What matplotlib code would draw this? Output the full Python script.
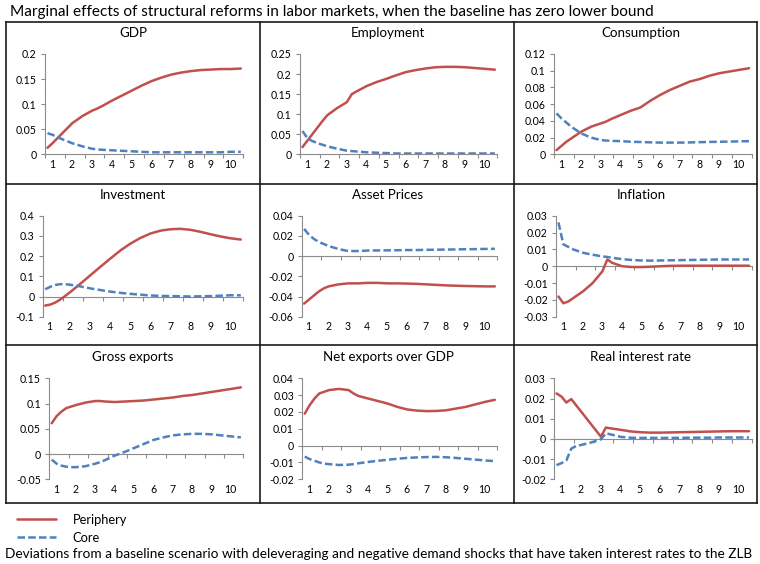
import matplotlib
matplotlib.use("Agg")
import matplotlib.pyplot as plt
from matplotlib.lines import Line2D
import numpy as np

plt.rcParams['font.family'] = ['Lato', 'DejaVu Sans']

# ---------------- data ----------------
QUARTERS = [1, 2, 3, 4, 5, 6, 8, 10, 11, 12, 14, 16, 18, 20, 22, 24, 26, 28, 30, 32, 34, 36, 38, 40]
YEAR_LABELS = ["1", "2", "3", "4", "5", "6", "7", "8", "9", "10"]
SERIES_NAMES = ["Periphery", "Core"]
PANEL_TITLES = ["GDP", "Employment", "Consumption",
                "Investment", "Asset Prices", "Inflation",
                "Gross exports", "Net exports over GDP", "Real interest rate"]

GDP_PERIPHERY = [0.013, 0.022, 0.032, 0.042, 0.052, 0.062, 0.076, 0.087, 0.091, 0.096, 0.107, 0.117,
                 0.127, 0.137, 0.146, 0.153, 0.159, 0.163, 0.166, 0.168, 0.169, 0.170, 0.170, 0.171]
GDP_CORE = [0.042, 0.039, 0.034, 0.030, 0.026, 0.022, 0.016, 0.011, 0.010, 0.009, 0.008, 0.007,
            0.006, 0.005, 0.004, 0.004, 0.004, 0.004, 0.004, 0.004, 0.004, 0.004, 0.005, 0.005]

EMP_PERIPHERY = [0.018, 0.034, 0.050, 0.066, 0.082, 0.097, 0.115, 0.130, 0.150, 0.157, 0.170, 0.180,
                 0.188, 0.197, 0.205, 0.210, 0.214, 0.217, 0.218, 0.218, 0.217, 0.215, 0.213, 0.211]
EMP_CORE = [0.058, 0.040, 0.033, 0.028, 0.024, 0.020, 0.014, 0.009, 0.008, 0.007, 0.005, 0.004,
            0.003, 0.002, 0.002, 0.002, 0.002, 0.002, 0.002, 0.002, 0.002, 0.002, 0.002, 0.002]

CONS_PERIPHERY = [0.005, 0.010, 0.015, 0.019, 0.023, 0.027, 0.033, 0.037, 0.039, 0.042, 0.047, 0.052,
                  0.056, 0.064, 0.071, 0.077, 0.082, 0.087, 0.090, 0.094, 0.097, 0.099, 0.101, 0.103]
CONS_CORE = [0.049, 0.043, 0.038, 0.033, 0.029, 0.025, 0.020, 0.017, 0.0165, 0.016, 0.0158, 0.015,
             0.0147, 0.0143, 0.014, 0.014, 0.014, 0.0142, 0.0145, 0.0148, 0.015, 0.0152, 0.0155, 0.0157]

INV_PERIPHERY = [-0.045, -0.040, -0.030, -0.015, 0.003, 0.022, 0.063, 0.105, 0.126, 0.147, 0.188, 0.228,
                 0.262, 0.290, 0.312, 0.326, 0.333, 0.335, 0.330, 0.320, 0.308, 0.297, 0.288, 0.282]
INV_CORE = [0.036, 0.048, 0.057, 0.061, 0.061, 0.058, 0.050, 0.040, 0.036, 0.032, 0.024, 0.018,
            0.013, 0.009, 0.005, 0.003, 0.002, 0.001, 0.000, 0.001, 0.002, 0.004, 0.006, 0.006]

ASSET_PERIPHERY = [-0.047, -0.043, -0.039, -0.035, -0.032, -0.030, -0.028, -0.027, -0.027, -0.027, -0.0265, -0.0265,
                   -0.027, -0.027, -0.0272, -0.0275, -0.028, -0.0285, -0.029, -0.0293, -0.0296, -0.0298, -0.030, -0.030]
ASSET_CORE = [0.027, 0.021, 0.017, 0.014, 0.012, 0.010, 0.007, 0.005, 0.005, 0.005, 0.0055, 0.0056,
              0.0057, 0.0058, 0.006, 0.006, 0.0062, 0.0063, 0.0065, 0.0066, 0.0068, 0.0069, 0.0071, 0.0072]

INFL_PERIPHERY = [-0.018, -0.022, -0.021, -0.019, -0.017, -0.015, -0.010, -0.003, 0.004, 0.002, 0.000, -0.0005,
                  -0.0005, -0.0003, 0.0, 0.0002, 0.0003, 0.0003, 0.0003, 0.0003, 0.0003, 0.0003, 0.0003, 0.0003]
INFL_CORE = [0.026, 0.013, 0.0115, 0.010, 0.009, 0.008, 0.0068, 0.0058, 0.0055, 0.005, 0.0042, 0.0037,
             0.0034, 0.0033, 0.0034, 0.0035, 0.0036, 0.0037, 0.0038, 0.0039, 0.004, 0.004, 0.004, 0.004]

GEXP_PERIPHERY = [0.061, 0.075, 0.084, 0.091, 0.094, 0.097, 0.102, 0.105, 0.105, 0.104, 0.103, 0.104,
                  0.105, 0.106, 0.108, 0.110, 0.112, 0.115, 0.117, 0.120, 0.123, 0.126, 0.129, 0.132]
GEXP_CORE = [-0.011, -0.019, -0.023, -0.025, -0.026, -0.026, -0.024, -0.019, -0.016, -0.012, -0.003, 0.004,
             0.012, 0.020, 0.028, 0.033, 0.037, 0.039, 0.040, 0.040, 0.039, 0.037, 0.035, 0.033]

NEXP_PERIPHERY = [0.019, 0.024, 0.028, 0.031, 0.032, 0.033, 0.0337, 0.033, 0.031, 0.0295, 0.028, 0.0265,
                  0.025, 0.023, 0.0215, 0.0208, 0.0205, 0.0206, 0.021, 0.022, 0.023, 0.0245, 0.026, 0.0272]
NEXP_CORE = [-0.0065, -0.008, -0.009, -0.010, -0.0107, -0.011, -0.0115, -0.0113, -0.011, -0.0105, -0.0097, -0.009,
             -0.0084, -0.0078, -0.0073, -0.007, -0.0068, -0.0067, -0.0069, -0.0073, -0.0078, -0.0083, -0.0088, -0.0092]

RIR_PERIPHERY = [0.0225, 0.021, 0.018, 0.0197, 0.0166, 0.0135, 0.0073, 0.0011, 0.0056, 0.0052, 0.0045, 0.0037,
                 0.0033, 0.0031, 0.0031, 0.0032, 0.0033, 0.0034, 0.0035, 0.0036, 0.0037, 0.0038, 0.0038, 0.0038]
RIR_CORE = [-0.013, -0.012, -0.0107, -0.0048, -0.0035, -0.003, -0.0018, -0.0002, 0.0028, 0.0022, 0.001, 0.0006,
            0.0005, 0.0005, 0.0005, 0.0005, 0.0005, 0.0006, 0.0006, 0.0006, 0.0007, 0.0007, 0.0007, 0.0007]

PERIPHERY = [GDP_PERIPHERY, EMP_PERIPHERY, CONS_PERIPHERY, INV_PERIPHERY, ASSET_PERIPHERY,
             INFL_PERIPHERY, GEXP_PERIPHERY, NEXP_PERIPHERY, RIR_PERIPHERY]
CORE = [GDP_CORE, EMP_CORE, CONS_CORE, INV_CORE, ASSET_CORE, INFL_CORE, GEXP_CORE, NEXP_CORE, RIR_CORE]

Y_TICKS = [[0, 0.05, 0.1, 0.15, 0.2],
           [0, 0.05, 0.1, 0.15, 0.2, 0.25],
           [0, 0.02, 0.04, 0.06, 0.08, 0.1, 0.12],
           [-0.1, 0, 0.1, 0.2, 0.3, 0.4],
           [-0.06, -0.04, -0.02, 0, 0.02, 0.04],
           [-0.03, -0.02, -0.01, 0, 0.01, 0.02, 0.03],
           [-0.05, 0, 0.05, 0.1, 0.15],
           [-0.02, -0.01, 0, 0.01, 0.02, 0.03, 0.04],
           [-0.02, -0.01, 0, 0.01, 0.02, 0.03]]

TITLE = "Marginal effects of structural reforms in labor markets, when the baseline has zero lower bound"
FOOTNOTE = ("Deviations from a baseline scenario with deleveraging and negative demand shocks "
            "that have taken interest rates to the ZLB")

# ---------------- layout (pixels) ----------------
W, H = 760, 564
RED = "#C0504D"
BLUE = "#4F81BD"
AXIS_GRAY = "#8C8C8C"

row_y = [(54, 154.3), (215.7, 316.7), (378.3, 479.3)]
col_left = [[45, 300, 554], [42.7, 301.7, 556], [49.3, 302.3, 554]]
col_right = [243.3, 497.3, 751.5]
title_x = [133, 388, 641]
title_y = [33, 195, 357]

fig = plt.figure(figsize=(W / 100, H / 100), dpi=100)

def fmt(v):
    s = f"{round(v, 3):g}"
    return "0" if s in ("-0", "0.0") else s

handles = []
for i in range(9):
    r, c = divmod(i, 3)
    top, bot = row_y[r]
    left = col_left[r][c]
    right = col_right[c]
    ax = fig.add_axes([left / W, 1 - bot / H, (right - left) / W, (bot - top) / H])
    ax.patch.set_alpha(0)
    lp, = ax.plot(QUARTERS, PERIPHERY[i], color=RED, lw=1.8, solid_capstyle='round', zorder=3)
    lc, = ax.plot(QUARTERS, CORE[i], color=BLUE, lw=1.8, linestyle=(0, (3.0, 1.3)), zorder=3)
    if i == 0:
        handles = [lp, lc]
    yt = Y_TICKS[i]
    ax.set_ylim(yt[0], yt[-1])
    ax.set_xlim(0.5, 40.5)
    ax.set_yticks(yt)
    ax.set_yticklabels([fmt(v) for v in yt])
    for s in ("top", "right"):
        ax.spines[s].set_visible(False)
    ax.spines["left"].set_color(AXIS_GRAY)
    ax.spines["left"].set_linewidth(0.8)
    ax.spines["bottom"].set_position(("data", 0))
    ax.spines["bottom"].set_color(AXIS_GRAY)
    ax.spines["bottom"].set_linewidth(0.8)
    ax.set_xticks(np.arange(0.5, 41, 4))
    ax.tick_params(axis="x", direction="out", length=3, color=AXIS_GRAY, labelbottom=False, width=0.8)
    ax.tick_params(axis="y", direction="out", length=3, color=AXIS_GRAY, width=0.8,
                   labelsize=7.6, pad=3, labelcolor="black")
    sec = ax.secondary_xaxis("bottom")
    sec.set_xticks([4 * k - 2.1 for k in range(1, 11)])
    sec.set_xticklabels(YEAR_LABELS)
    sec.tick_params(length=0, pad=3.2, labelsize=7.6)
    sec.spines["bottom"].set_visible(False)
    fig.text(title_x[c] / W, 1 - title_y[r] / H, PANEL_TITLES[i], ha="center", va="center", fontsize=9.6)

# grid frame
frame_kw = dict(color="#1a1a1a", lw=1.2, transform=fig.transFigure)
x0, x1, y0, y1 = 6, 757, 22, 503
for (xa, ya, xb, yb) in [(x0, y0, x1, y0), (x0, y1, x1, y1), (x0, y0, x0, y1), (x1, y0, x1, y1),
                         (260, y0, 260, y1), (514, y0, 514, y1), (x0, 184, x1, 184), (x0, 345, x1, 345)]:
    fig.add_artist(Line2D([xa / W, xb / W], [1 - ya / H, 1 - yb / H], **frame_kw))

fig.text(10 / W, 1 - 12 / H, TITLE, ha="left", va="center", fontsize=11.1)

fig.legend(handles, SERIES_NAMES, loc="upper left", bbox_to_anchor=(17 / W, 1 - 513.5 / H),
           frameon=False, fontsize=9.3, handlelength=3.0, handletextpad=1.3, labelspacing=0.5,
           borderpad=0, borderaxespad=0)

fig.text(5 / W, 1 - 554 / H, FOOTNOTE, ha="left", va="center", fontsize=9.8)

fig.savefig("out.png", dpi=100)
